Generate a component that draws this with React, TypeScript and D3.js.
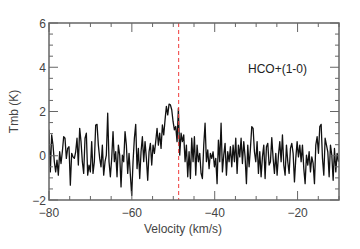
import * as d3 from 'd3';
import React, { useEffect, useRef } from 'react';

// spectrum channels (K), starting at -80 km/s
const velStart = -80;
const velStep = 0.322;
const tmb = [
  1.17, -0.73, 0.94, 0.48, -0.27, -0.73, -0.2, -0.88, 0.18, -0.35, 0.18, 0.86, 0.79, -0.12, 0.33, 0.41,
  -1.33, 0.11, -0.05, -0.12, 0.18, 0.79, -0.42, 1.24, 0.64, -0.27, -0.8, 0.79, 1.02, -0.88, -0.42, -0.73,
  0.64, -0.8, -0.27, 1.39, 1.42, 0.48, -0.12, -0.5, 0.48, -0.88, -0.27, 0.03, 1.92, -0.27, -0.95, -0.12,
  1.09, -0.27, 0.18, -0.95, 0.48, 0.03, -1.41, 0.03,
  -0.27, 1.09, 0.48, -0.8, 0.11, -0.88, -1.79, -0.27, 0.79, 1.42, -0.58, 0.33, -1.03, 0.18, 0.86, -0.27,
  0.64, -0.12, -1.11, 0.18, 0.56, -0.42, 0.48, 0.11, 0.64, 1.24, 0.48, 1.02, 0.33, 1.39, 0.94, 1.62,
  2.23, 1.85, 2.33, 2.3, 2.08, 1.55, 1.17, 1.32, 0.64, 2.15, 0.03, 1.02, 0.64, 0.94, -0.27, 0.48,
  -0.95, 0.18, -1.03, 0.79, -0.27, 0.86, -0.88,
  0.48, -0.27, 0.11, -0.8, -1.03, 0.48, 1.47, -0.27, 0.26, -0.58, 0.11, -0.12, 0.18, -0.5, -0.12, -1.26,
  0.71, -0.27, 1.47, -0.73, 0.03, 0.56, -0.88, 0.18, -0.27, 0.41, -0.5, 0.48, -0.27, 0.79, -0.8, 0.48,
  -0.05, 0.79, -0.35, 0.64, -0.05, -1.26, 0.48, -0.5, 0.33, 1.32, 1.24, 0.18, -0.27, 0.64, -0.8, 0.18,
  -0.95, -0.05, 0.48, -1.03, 0.41, 0.56, -0.42,
  -0.27, 0.82, -0.12, -0.8, 0.11, -0.88, 0.03, 0.64, -0.27, 0.94, -0.42, -0.88, 0.48, -0.27, -0.8, 0.33,
  0.56, 0.11, -1.18, -0.12, 0.64, -0.05, 0.48, -0.27, 0.48, -0.58, -1.26, 0.03, -0.42, 0.18, -0.73, -0.05,
  -0.35, -1.26, 0.48, 0.86, 0.11, 1.32, 1.42, -0.12, -0.88, 0.79, 0.48, 0.18, -0.95, 0.48, 0.03, -1.11,
  0.33, -0.73, 0.11, -0.27,
];

const xDomain = [-80, -10];
const yDomain = [-2, 6];
const xMajorTicks = [-80, -60, -40, -20];
const yMajorTicks = [-2, 0, 2, 4, 6];
const markerVelocity = -48.7;
const lineLabel = 'HCO+(1-0)';

const W = 360;
const H = 249;
const margin = { left: 49, right: 21, top: 23, bottom: 49 };

const App: React.FC = () => {
  const ref = useRef<SVGSVGElement>(null);

  useEffect(() => {
    const svg = d3.select(ref.current);
    svg.selectAll('*').remove();

    const x = d3.scaleLinear().domain(xDomain).range([margin.left, W - margin.right]);
    const y = d3.scaleLinear().domain(yDomain).range([H - margin.bottom, margin.top]);
    const [x0, x1] = x.range();
    const [y0, y1] = y.range();

    const fmt = (v: number) => d3.format('d')(v);
    const frameColor = '#666';
    const textColor = '#444';
    const font = '"Liberation Sans", Arial, sans-serif';

    svg
      .append('clipPath')
      .attr('id', 'plot-clip')
      .append('rect')
      .attr('x', x0)
      .attr('y', y1)
      .attr('width', x1 - x0)
      .attr('height', y0 - y1);

    // spectrum
    const pts = tmb.map((t, i) => [velStart + i * velStep, t] as [number, number]);
    const line = d3
      .line<[number, number]>()
      .x(d => x(d[0]))
      .y(d => y(d[1]));

    svg
      .append('path')
      .attr('clip-path', 'url(#plot-clip)')
      .attr('d', line(pts))
      .attr('fill', 'none')
      .attr('stroke', '#111')
      .attr('stroke-width', 1.3)
      .attr('stroke-linejoin', 'round');

    // red marker
    svg
      .append('line')
      .attr('x1', x(markerVelocity))
      .attr('x2', x(markerVelocity))
      .attr('y1', y1)
      .attr('y2', y0)
      .attr('stroke', '#f03c3c')
      .attr('stroke-width', 1)
      .attr('stroke-dasharray', '4,3');

    // frame
    svg
      .append('rect')
      .attr('x', x0)
      .attr('y', y1)
      .attr('width', x1 - x0)
      .attr('height', y0 - y1)
      .attr('fill', 'none')
      .attr('stroke', frameColor)
      .attr('stroke-width', 1.5);

    // ticks pointing inward on all four sides
    const ticks = svg.append('g').attr('stroke', frameColor).attr('stroke-width', 1);
    const xMinor = d3.range(xDomain[0], xDomain[1] + 0.01, 5);
    xMinor.forEach(v => {
      const len = xMajorTicks.includes(v) ? 9 : 4;
      ticks.append('line').attr('x1', x(v)).attr('x2', x(v)).attr('y1', y0).attr('y2', y0 - len);
      ticks.append('line').attr('x1', x(v)).attr('x2', x(v)).attr('y1', y1).attr('y2', y1 + len);
    });
    const yMinor = d3.range(yDomain[0], yDomain[1] + 0.01, 0.5);
    yMinor.forEach(v => {
      const len = yMajorTicks.includes(v) ? 9 : 4;
      ticks.append('line').attr('x1', x0).attr('x2', x0 + len).attr('y1', y(v)).attr('y2', y(v));
      ticks.append('line').attr('x1', x1).attr('x2', x1 - len).attr('y1', y(v)).attr('y2', y(v));
    });

    // tick labels
    const labels = svg
      .append('g')
      .attr('fill', textColor)
      .attr('font-family', font)
      .attr('font-size', 12);
    xMajorTicks.forEach(v => {
      labels
        .append('text')
        .attr('x', x(v))
        .attr('y', y0 + 17)
        .attr('text-anchor', 'middle')
        .text(fmt(v));
    });
    yMajorTicks.forEach(v => {
      labels
        .append('text')
        .attr('x', x0 - 3)
        .attr('y', y(v) + 4.5)
        .attr('text-anchor', 'end')
        .text(fmt(v));
    });

    // axis titles
    labels
      .append('text')
      .attr('x', 183)
      .attr('y', 233)
      .attr('text-anchor', 'middle')
      .text('Velocity (km/s)');
    labels
      .append('text')
      .attr('transform', `translate(18,${(y0 + y1) / 2}) rotate(-90)`)
      .attr('text-anchor', 'middle')
      .text('Tmb (K)');

    labels
      .append('text')
      .attr('x', 248)
      .attr('y', 73)
      .attr('fill', '#222')
      .text(lineLabel);
  }, []);

  return (
    <svg
      ref={ref}
      width={W}
      height={H}
      style={{ position: 'absolute', left: 0, top: 0, background: '#fff' }}
    />
  );
};

export default App;
